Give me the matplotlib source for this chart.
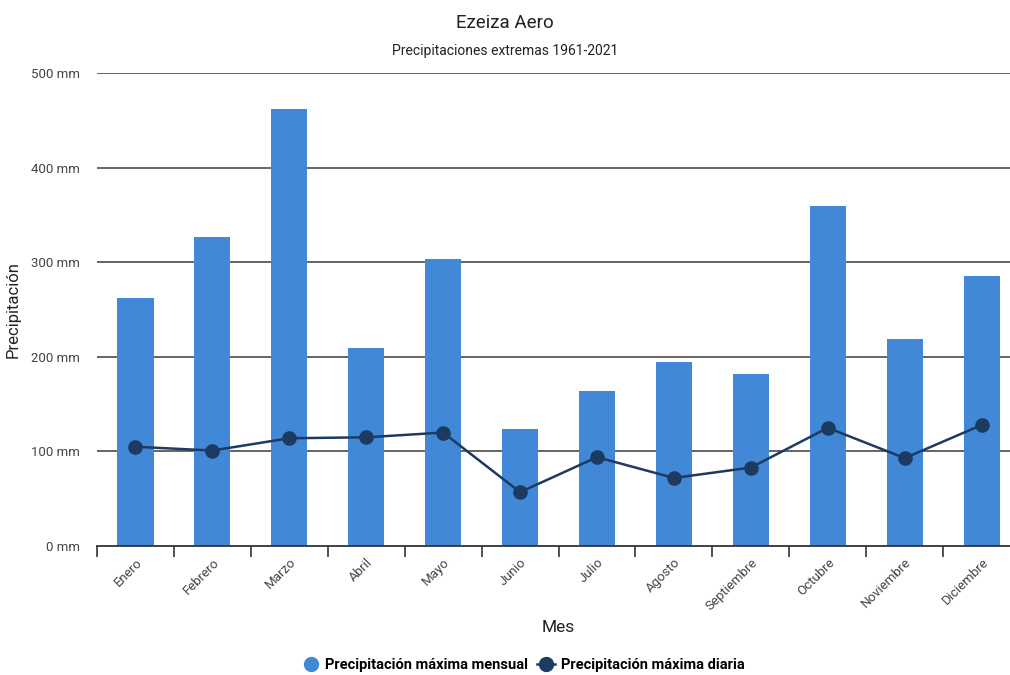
import numpy as np
import matplotlib.pyplot as plt
from matplotlib.lines import Line2D

plt.rcParams['font.family'] = ['Roboto', 'DejaVu Sans']

meses = ['Enero', 'Febrero', 'Marzo', 'Abril', 'Mayo', 'Junio', 'Julio',
         'Agosto', 'Septiembre', 'Octubre', 'Noviembre', 'Diciembre']
max_mensual = [262, 327, 462, 209, 303, 124, 164, 195, 182, 359, 219, 285]
max_diaria = [105, 101, 114, 115, 120, 57, 94, 72, 83, 125, 93, 128]
y_ticks = [0, 100, 200, 300, 400, 500]

bar_color = '#4189d6'
line_color = '#1d3a62'

fig = plt.figure(figsize=(10.1, 6.75), dpi=100)
ax = fig.add_axes([0.096, 0.191, 0.914, 0.7007])

x = np.arange(len(meses))
for yv in y_ticks[1:]:
    ax.axhline(yv, color='#3a3a3a', linewidth=1.1, zorder=1)
ax.bar(x, max_mensual, width=0.47, color=bar_color, zorder=2)
ax.plot(x, max_diaria, color=line_color, linewidth=1.8, marker='o',
        markersize=9.5, zorder=3)

ax.set_xlim(-0.5, 11.5)
ax.set_ylim(0, 500)
for s in ['top', 'right', 'left']:
    ax.spines[s].set_visible(False)
ax.spines['bottom'].set_color('#333333')
ax.spines['bottom'].set_linewidth(1.3)
ax.spines['bottom'].set_zorder(4)

ax.set_yticks(y_ticks)
ax.set_yticklabels([f'{v} mm' for v in y_ticks], fontsize=9.5, color='#444444')
ax.tick_params(axis='y', length=0, pad=12)

ax.set_xticks(x)
ax.set_xticklabels(meses, rotation=45, ha='right', va='top',
                   rotation_mode='anchor', fontsize=9.5, color='#444444')
ax.tick_params(axis='x', which='major', length=0, pad=7)
ax.set_xticks(np.arange(-0.5, 11.6, 1), minor=True)
ax.tick_params(axis='x', which='minor', length=8, width=1.2,
               color='#333333', direction='out')

ax.set_ylabel('Precipitación', fontsize=12, color='#222222', labelpad=8)
ax.set_xlabel('Mes', fontsize=12.5, color='#222222', labelpad=5)

fig.text(0.5, 0.966, 'Ezeiza Aero', ha='center', va='center',
         fontsize=13.5, color='#222222')
fig.text(0.5, 0.925, 'Precipitaciones extremas 1961-2021', ha='center',
         va='center', fontsize=10, color='#222222')

handles = [
    Line2D([], [], linestyle='none', marker='o', markersize=10,
           color=bar_color),
    Line2D([], [], color=line_color, linewidth=1.8, marker='o',
           markersize=10),
]
labels = ['Precipitación máxima mensual', 'Precipitación máxima diaria']
fig.legend(handles, labels, loc='center', bbox_to_anchor=(0.518, 0.015),
           ncol=2, frameon=False, handlelength=1.2, columnspacing=0.6,
           handletextpad=0.4, prop={'weight': 'bold', 'size': 10.5})

fig.savefig('out.png', dpi=100)
